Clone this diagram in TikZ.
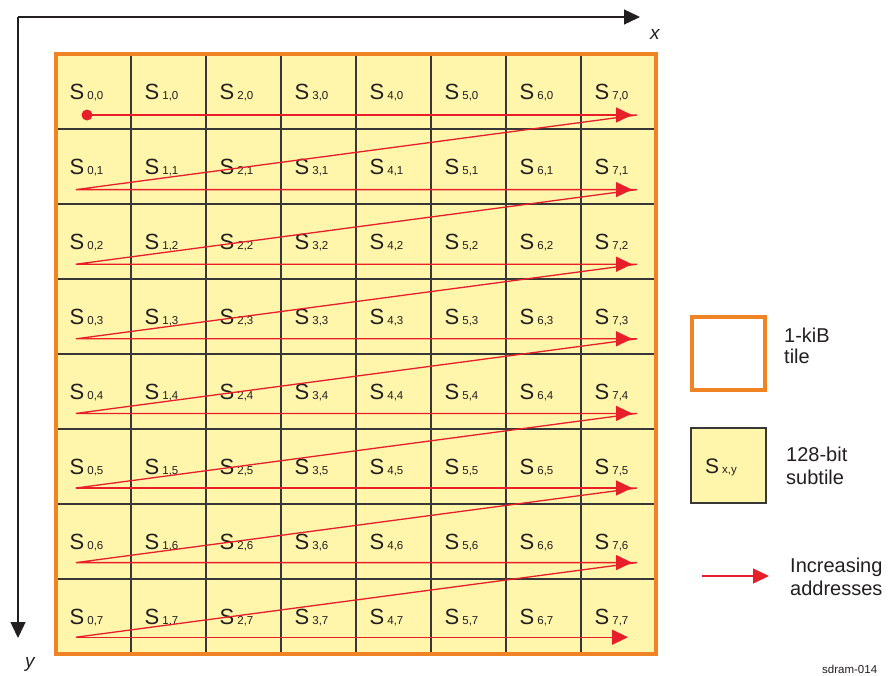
\documentclass[tikz,border=0pt]{standalone}
\usepackage{fontspec}
\setmainfont{Liberation Sans}
\usetikzlibrary{arrows.meta}
\definecolor{tileorange}{RGB}{240,132,36}
\definecolor{subyellow}{RGB}{255,246,172}
\definecolor{arrred}{RGB}{232,30,40}
\definecolor{gridgray}{RGB}{55,55,55}
\definecolor{axisblack}{RGB}{35,31,32}
\tikzset{
  cell/.style={draw=gridgray, fill=subyellow, line width=1.1pt, minimum size=75pt, inner sep=0pt, outer sep=0pt},
  tilebox/.style={draw=tileorange, line width=3.5pt, minimum size=600pt, inner sep=0pt},
  lbl/.style={anchor=base west, inner sep=0pt, font=\fontsize{22}{24}\selectfont, text=axisblack},
  legtext/.style={anchor=base west, inner sep=0pt, font=\fontsize{20}{22.5}\selectfont, text=axisblack},
  redline/.style={draw=arrred, line width=1.3pt},
  redarrow/.style={draw=arrred, line width=1.3pt, -{Triangle[length=16pt,width=15pt]}},
  axis/.style={draw=axisblack, line width=1.3pt, -{Triangle[length=16pt,width=15pt]}},
}
\newcommand{\subsc}[1]{\hspace{3pt}{\fontsize{11.5}{12}\selectfont #1}}
\begin{document}
\begin{tikzpicture}[x=1pt,y=-1pt]
\useasboundingbox (0,0) rectangle (888,675);
% axes
\coordinate (o) at (18,17);
\coordinate (xe) at (640,17);
\coordinate (ye) at (18,638);
\draw[axis] (o) -- (xe);
\draw[axis] (o) -- (ye);
\node[anchor=base west, inner sep=0pt, font=\fontsize{19}{20}\selectfont\itshape, text=axisblack] (xl) at (650,39) {x};
\node[anchor=base west, inner sep=0pt, font=\fontsize{19}{20}\selectfont\itshape, text=axisblack] (yl) at (25,667) {y};
% cells
\foreach \i in {0,...,7} {
  \foreach \j in {0,...,7} {
    \node[cell] (c\i\j) at ({56+75*\i+37.5},{54+75*\j+37.5}) {};
    \node[lbl] (l\i\j) at ({56+75*\i+13.5},{54+75*\j+45}) {S\subsc{\i,\j}};
  }
}
\node[tilebox] (tile) at (356,354) {};
% red zigzag
\foreach \j in {0,...,7} {
  \coordinate (s\j) at (76,{115+74.6*\j});
  \coordinate (e\j) at (637,{115+74.6*\j});
  \coordinate (t\j) at (632,{115+74.6*\j});
}
\coordinate (dot) at (87,115);
\draw[redline] (dot) -- (e0) -- (s1) -- (e1) -- (s2) -- (e2) -- (s3) -- (e3) -- (s4) -- (e4) -- (s5) -- (e5) -- (s6) -- (e6) -- (s7);
\fill[arrred] (dot) circle (5.5pt);
\draw[redarrow] (dot) -- (t0);
\foreach \j in {1,...,6} { \draw[redarrow] (s\j) -- (t\j); }
\coordinate (t7b) at (628,{115+74.6*7});
\draw[redarrow] (s7) -- (t7b);
% legend
\node[draw=tileorange, line width=4pt, minimum size=73pt, inner sep=0pt] (legtile) at (728.5,353.5) {};
\node[legtext] (legtiletext1) at (784,342) {1-kiB};
\node[legtext] (legtiletext2) at (784,363) {tile};
\node[cell, minimum size=75pt] (legsub) at (728.5,465.5) {};
\node[anchor=base west, inner sep=0pt, font=\fontsize{21}{22}\selectfont, text=axisblack] (legsublbl) at (705,473) {S\hspace{3pt}{\fontsize{11.5}{12}\selectfont x,y}};
\node[legtext] (legsubtext1) at (786,461) {128-bit};
\node[legtext] (legsubtext2) at (786,484) {subtile};
\coordinate (la) at (702,576);
\coordinate (lb) at (769,576);
\draw[redarrow] (la) -- (lb);
\node[legtext] (legarrtext1) at (790,572) {Increasing};
\node[legtext] (legarrtext2) at (790,595) {addresses};
\node[anchor=base west, inner sep=0pt, font=\fontsize{11.5}{12}\selectfont, text=axisblack] (fig) at (822,673) {sdram-014};
\end{tikzpicture}
\end{document}
